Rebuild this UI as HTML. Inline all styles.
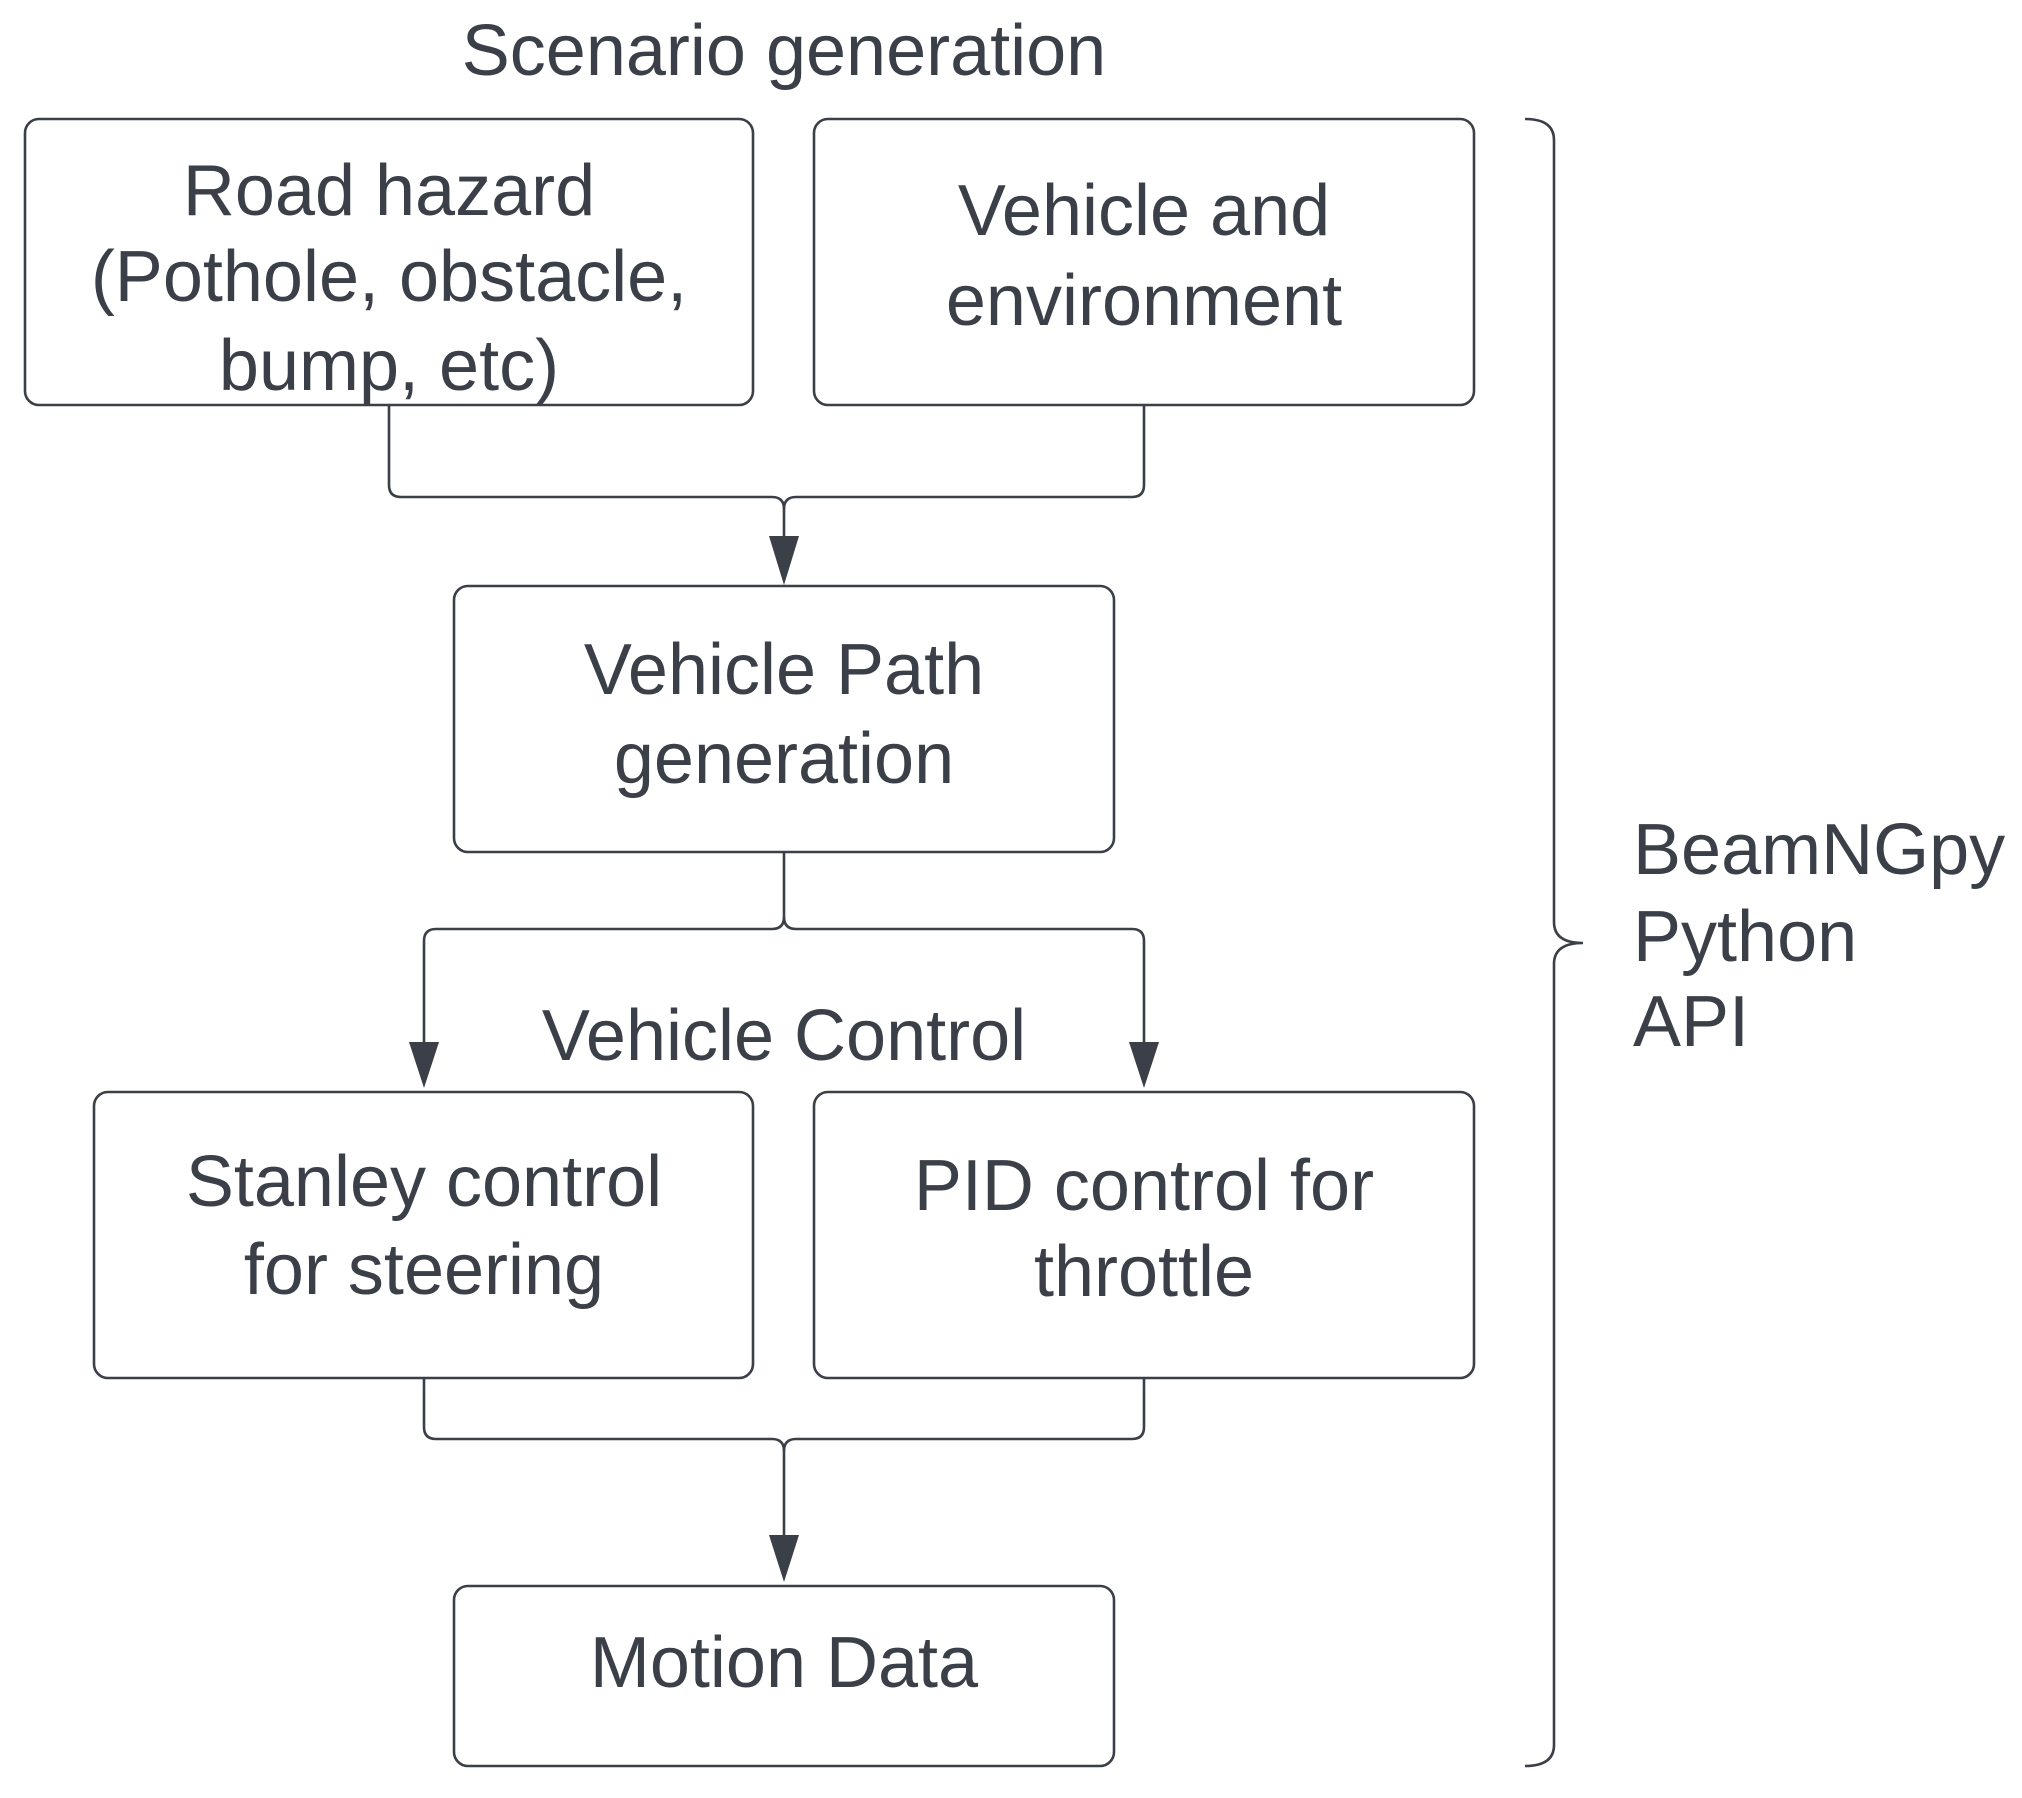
<!DOCTYPE html>
<html><head><meta charset="utf-8"><style>
html,body{margin:0;padding:0;background:#fff;}
svg{display:block;}
text{font-family:"Liberation Sans",Arial,sans-serif;font-size:72px;fill:#3a3f48;text-anchor:middle;}
</style></head><body>
<svg width="2022" height="1798" viewBox="0 0 2022 1798" xmlns="http://www.w3.org/2000/svg">
<g fill="none" stroke="#3a3f48" stroke-width="2.6">
<rect x="25" y="119" width="728" height="286" rx="14"/>
<rect x="814" y="119" width="660" height="286" rx="14"/>
<rect x="454" y="586" width="660" height="266" rx="14"/>
<rect x="94" y="1092" width="659" height="286" rx="14"/>
<rect x="814" y="1092" width="660" height="286" rx="14"/>
<rect x="454" y="1586" width="660" height="180" rx="14"/>
<path d="M389 405 V485 Q389 497 401 497 H772 Q784 497 784 509 V540"/>
<path d="M1144 405 V485 Q1144 497 1132 497 H796 Q784 497 784 509"/>
<path d="M784 852 V917 Q784 929 772 929 H436 Q424 929 424 941 V1045"/>
<path d="M784 917 Q784 929 796 929 H1132 Q1144 929 1144 941 V1045"/>
<path d="M424 1378 V1427 Q424 1439 436 1439 H772 Q784 1439 784 1451 V1538"/>
<path d="M1144 1378 V1427 Q1144 1439 1132 1439 H796 Q784 1439 784 1451"/>
<path d="M1525 119 Q1554 119 1554 140 V922 Q1554 943 1583 943 Q1554 943 1554 964 V1745 Q1554 1766 1525 1766"/>
</g>
<g fill="#3a3f48">
<polygon points="769,536 799,536 784,585"/>
<polygon points="409,1042 439,1042 424,1088"/>
<polygon points="1129,1042 1159,1042 1144,1088"/>
<polygon points="769,1535 799,1535 784,1582"/>
</g>
<text x="784" y="75">Scenario generation</text>
<text x="389" y="215">Road hazard</text>
<text x="389" y="301">(Pothole, obstacle,</text>
<text x="389" y="390">bump, etc)</text>
<text x="1144" y="235">Vehicle and</text>
<text x="1144" y="325">environment</text>
<text x="784" y="694">Vehicle Path</text>
<text x="784" y="783">generation</text>
<text x="784" y="1060">Vehicle Control</text>
<text x="424" y="1206">Stanley control</text>
<text x="424" y="1294">for steering</text>
<text x="1144" y="1210">PID control for</text>
<text x="1144" y="1296">throttle</text>
<text x="784" y="1687">Motion Data</text>
<text x="1633" y="874" style="text-anchor:start">BeamNGpy</text>
<text x="1633" y="961" style="text-anchor:start">Python</text>
<text x="1633" y="1046" style="text-anchor:start">API</text>
</svg>
</body></html>
